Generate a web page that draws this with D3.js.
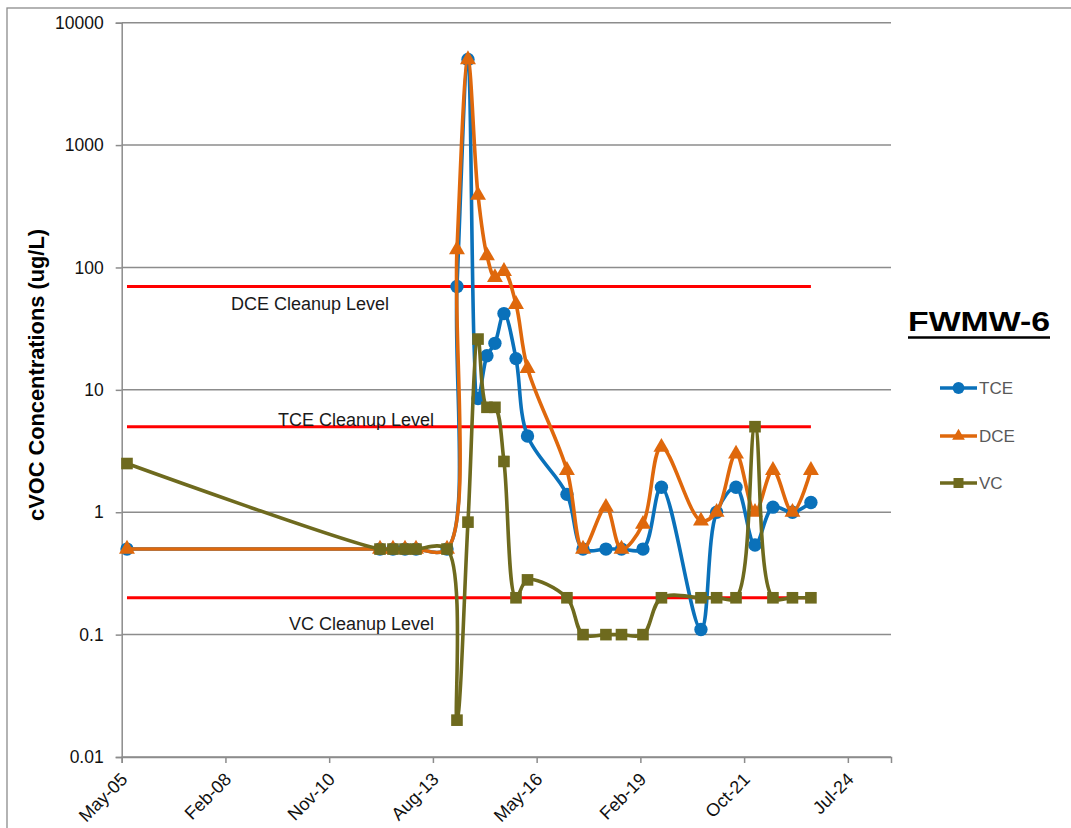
<!DOCTYPE html>
<html>
<head>
<meta charset="utf-8">
<script src="https://cdn.jsdelivr.net/npm/d3@7"></script>
<style>
  html, body { margin: 0; padding: 0; background: #ffffff; }
  svg { display: block; }
  text { font-family: "Liberation Sans", Arial, sans-serif; }
</style>
</head>
<body>
<svg id="chart" width="1071" height="828"></svg>
<script>
// Monitoring well FWMW-6: chlorinated VOC concentrations over time (ug/L)
const sampleDates = [
  "2005-07-18", "2012-03-22", "2012-07-25", "2012-11-18", "2013-03-04",
  "2013-12-28", "2014-04-03", "2014-07-18", "2014-10-23", "2015-01-17",
  "2015-04-04", "2015-06-30", "2015-10-24", "2016-02-12", "2017-02-26",
  "2017-07-31", "2018-03-09", "2018-08-06", "2019-03-01", "2019-08-26",
  "2020-09-10", "2021-02-08", "2021-08-14", "2022-02-13", "2022-08-05",
  "2023-02-09", "2023-08-06"
];
const tceValues = [0.5, 0.5, 0.5, 0.5, 0.5, 0.5, 70, 5000, 8.5, 19, 24, 42, 18, 4.2, 1.4,
  0.5, 0.5, 0.5, 0.5, 1.6, 0.11, 1.0, 1.6, 0.54, 1.1, 1.0, 1.2];
const dceValues = [0.5, 0.5, 0.5, 0.5, 0.5, 0.5, 140, 5000, 390, 125, 83, 93, 50, 15, 2.2,
  0.5, 1.1, 0.5, 0.8, 3.4, 0.85, 1.0, 3.0, 1.0, 2.2, 1.0, 2.2];
const vcValues = [2.5, 0.5, 0.5, 0.5, 0.5, 0.5, 0.02, 0.83, 26, 7.2, 7.2, 2.6, 0.2, 0.28, 0.2,
  0.1, 0.1, 0.1, 0.1, 0.2, 0.2, 0.2, 0.2, 5.0, 0.2, 0.2, 0.2];

const seriesNames = ["TCE", "DCE", "VC"];
const seriesColors = ["#0A71BA", "#DF680C", "#6E6A1E"];
const seriesSymbols = [d3.symbolCircle, d3.symbolTriangle, d3.symbolSquare];

const cleanupNames = ["DCE Cleanup Level", "TCE Cleanup Level", "VC Cleanup Level"];
const cleanupValues = [70, 5, 0.2];

const xDomain = ["2005-05-28", "2025-09-16"];
const xTickStepDays = 1000;
const yTicks = [0.01, 0.1, 1, 10, 100, 1000, 10000];
const yTickLabels = ["0.01", "0.1", "1", "10", "100", "1000", "10000"];
const yTitle = "cVOC Concentrations (ug/L)";
const wellName = "FWMW-6";

// ---- layout ----
const svg = d3.select("#chart");
const plot = { left: 121.7, right: 891, top: 22.7, bottom: 757 };
const gridColor = "#8c8c8c";

const parse = d3.utcParse("%Y-%m-%d");
const dates = sampleDates.map(parse);
const x = d3.scaleUtc().domain(xDomain.map(parse)).range([plot.left, plot.right]);
const y = d3.scaleLog().domain([0.01, 10000]).range([plot.bottom, plot.top]);

const xStart = parse(xDomain[0]);
const xEnd = parse(xDomain[1]);
const xTicks = [];
for (let k = 0; ; k++) {
  const d = d3.utcDay.offset(xStart, k * xTickStepDays);
  if (d > xEnd) break;
  xTicks.push(d);
}

// outer chart border
svg.append("rect")
  .attr("x", 7).attr("y", 8).attr("width", 1100).attr("height", 900)
  .attr("fill", "none").attr("stroke", gridColor).attr("stroke-width", 1.3);

// horizontal gridlines
svg.append("g")
  .selectAll("line")
  .data(yTicks)
  .join("line")
  .attr("x1", plot.left).attr("x2", plot.right)
  .attr("y1", d => y(d)).attr("y2", d => y(d))
  .attr("stroke", gridColor).attr("stroke-width", 1.5);

// y axis
const yAxis = svg.append("g")
  .attr("transform", `translate(${plot.left},0)`)
  .call(d3.axisLeft(y).tickValues(yTicks).tickSize(6).tickPadding(12)
    .tickFormat((d, i) => yTickLabels[i]));
yAxis.select(".domain").attr("stroke", gridColor).attr("stroke-width", 1.5);
yAxis.selectAll(".tick line").attr("stroke", gridColor).attr("stroke-width", 1.5);
yAxis.selectAll(".tick text")
  .attr("font-family", "'Liberation Sans', Arial, sans-serif")
  .attr("font-size", 17.5).attr("fill", "#111");

// x axis
const xAxis = svg.append("g")
  .attr("transform", `translate(0,${plot.bottom})`)
  .call(d3.axisBottom(x).tickValues(xTicks).tickSize(6)
    .tickFormat(d3.utcFormat("%b-%y")));
xAxis.select(".domain").attr("stroke", gridColor).attr("stroke-width", 1.5);
xAxis.selectAll(".tick line").attr("stroke", gridColor).attr("stroke-width", 1.5);
xAxis.selectAll(".tick text")
  .attr("font-family", "'Liberation Sans', Arial, sans-serif")
  .attr("font-size", 18).attr("fill", "#111")
  .attr("text-anchor", "end")
  .attr("x", 0).attr("y", 0).attr("dy", "0.35em")
  .attr("transform", "translate(2,19) rotate(-45)");

// y axis title
svg.append("text")
  .attr("transform", "translate(36,375) rotate(-90)")
  .attr("text-anchor", "middle")
  .attr("dy", "0.35em")
  .attr("font-size", 22)
  .attr("font-weight", "bold")
  .attr("fill", "#000")
  .attr("textLength", 292)
  .attr("lengthAdjust", "spacingAndGlyphs")
  .text(yTitle);

// cleanup level lines, spanning the sampling period
const firstDate = dates[0], lastDate = dates[dates.length - 1];
svg.append("g")
  .selectAll("line")
  .data(cleanupValues)
  .join("line")
  .attr("x1", x(firstDate)).attr("x2", x(lastDate))
  .attr("y1", d => y(d)).attr("y2", d => y(d))
  .attr("stroke", "#ff0000").attr("stroke-width", 3);

// cleanup level labels
const labelPlacement = [
  { xEnd: 389, dy: 24 },
  { xEnd: 434, dy: -1 },
  { xEnd: 434, dy: 32 }
];
svg.append("g")
  .selectAll("text")
  .data(cleanupValues)
  .join("text")
  .attr("x", (d, i) => labelPlacement[i].xEnd)
  .attr("y", (d, i) => y(d) + labelPlacement[i].dy)
  .attr("text-anchor", "end")
  .attr("font-size", 18)
  .attr("fill", "#1a1a1a")
  .text((d, i) => cleanupNames[i]);

// data series: smoothed lines with markers
const seriesValues = [tceValues, dceValues, vcValues];
const line = d3.line()
  .x(d => x(d.date))
  .y(d => y(d.value))
  .curve(d3.curveCatmullRom.alpha(0.5));

const symbolSizes = [140, 110, 135];

seriesValues.forEach((vals, i) => {
  const pts = vals.map((v, j) => ({ date: dates[j], value: v }));
  const g = svg.append("g");
  g.append("path")
    .datum(pts)
    .attr("d", line)
    .attr("fill", "none")
    .attr("stroke", seriesColors[i])
    .attr("stroke-width", 3.6)
    .attr("stroke-linejoin", "round")
    .attr("stroke-linecap", "round");
  g.selectAll("path.mark")
    .data(pts)
    .join("path")
    .attr("class", "mark")
    .attr("transform", d => `translate(${x(d.date)},${y(d.value)})`)
    .attr("d", d3.symbol().type(seriesSymbols[i]).size(symbolSizes[i]))
    .attr("fill", seriesColors[i]);
});

// well name heading
svg.append("text")
  .attr("x", 908).attr("y", 331)
  .attr("font-size", 28)
  .attr("font-weight", "bold")
  .attr("fill", "#000")
  .attr("textLength", 142)
  .attr("lengthAdjust", "spacingAndGlyphs")
  .text(wellName);
svg.append("line")
  .attr("x1", 908).attr("x2", 1050)
  .attr("y1", 337.5).attr("y2", 337.5)
  .attr("stroke", "#000").attr("stroke-width", 2.5);

// legend
const legendY = [388, 436, 483];
const legendSizes = [110, 70, 100];
const legend = svg.append("g");
seriesNames.forEach((name, i) => {
  const ly = legendY[i];
  legend.append("line")
    .attr("x1", 940).attr("x2", 977)
    .attr("y1", ly).attr("y2", ly)
    .attr("stroke", seriesColors[i]).attr("stroke-width", 3.6);
  legend.append("path")
    .attr("transform", `translate(958.5,${ly})`)
    .attr("d", d3.symbol().type(seriesSymbols[i]).size(legendSizes[i]))
    .attr("fill", seriesColors[i]);
  legend.append("text")
    .attr("x", 979).attr("y", ly)
    .attr("dy", "0.35em")
    .attr("font-size", 17)
    .attr("fill", "#595959")
    .text(name);
});
</script>
</body>
</html>
